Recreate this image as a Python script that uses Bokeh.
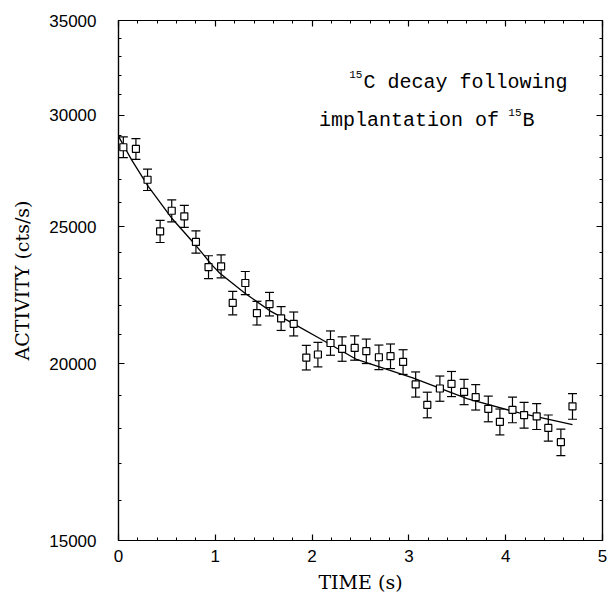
from bokeh.plotting import figure
from bokeh.models import (ColumnDataSource, Whisker, TeeHead, FixedTicker,
                          LinearAxis, LogAxis, Label, Range1d, NumeralTickFormatter,
                          CustomLabelingPolicy)
from bokeh.embed import file_html
from bokeh.resources import INLINE

# ---- data ----
time_s = [0.05, 0.18, 0.30, 0.43, 0.55, 0.68, 0.80, 0.93, 1.06, 1.18,
          1.31, 1.43, 1.56, 1.68, 1.81, 1.94, 2.06, 2.19, 2.31, 2.44,
          2.56, 2.69, 2.81, 2.94, 3.07, 3.19, 3.32, 3.44, 3.57, 3.69,
          3.82, 3.94, 4.07, 4.19, 4.32, 4.44, 4.57, 4.69]
activity = [28470, 28390, 27000, 24825, 25670, 25440, 24400, 23420, 23450, 22090,
            22820, 21730, 22050, 21540, 21350, 20210, 20310, 20695, 20495, 20530,
            20420, 20220, 20255, 20065, 19345, 18710, 19215, 19360, 19110, 18945,
            18590, 18200, 18560, 18400, 18360, 18020, 17605, 18665]
activity_err = [481, 480, 468, 449, 457, 455, 445, 436, 436, 424,
                431, 420, 423, 418, 416, 405, 406, 410, 408, 408,
                407, 405, 406, 404, 396, 390, 395, 396, 394, 392,
                389, 384, 388, 387, 386, 383, 378, 389]

fit_time = [0.0, 0.134, 0.307, 0.548, 0.807, 0.962, 1.044, 1.303, 1.56, 1.82,
            2.08, 2.37, 2.46, 3.04, 3.6, 4.14, 4.69]
fit_activity = [28980, 27900, 26712, 25370, 24226, 23515, 23195, 22450, 21817, 21330,
                20845, 20310, 20146, 19550, 18900, 18464, 18120]

x_major_ticks = [0, 1, 2, 3, 4, 5]
x_tick_labels = ["0", "1", "2", "3", "4", "5"]
x_minor_ticks = [0.2, 0.4, 0.6, 0.8, 1.2, 1.4, 1.6, 1.8, 2.2, 2.4, 2.6, 2.8,
                 3.2, 3.4, 3.6, 3.8, 4.2, 4.4, 4.6, 4.8]
y_major_ticks = [15000, 20000, 25000, 30000, 35000]
y_tick_labels = ["15000", "20000", "25000", "30000", "35000"]
y_minor_ticks = [16000, 17000, 18000, 19000, 21000, 22000, 23000, 24000,
                 26000, 27000, 28000, 29000, 31000, 32000, 33000, 34000]

lower = [a - e for a, e in zip(activity, activity_err)]
upper = [a + e for a, e in zip(activity, activity_err)]
src = ColumnDataSource(data=dict(t=time_s, a=activity, lo=lower, hi=upper))

p = figure(width=607, height=596, x_range=Range1d(0, 5), y_range=Range1d(15000, 35000),
           y_axis_type="log", output_backend="svg", toolbar_location=None,
           min_border_left=118, min_border_right=5, min_border_top=20, min_border_bottom=56,
           background_fill_color="white", border_fill_color="white")
p.grid.visible = False
p.outline_line_color = "black"
p.outline_line_width = 1.2

xt = FixedTicker(ticks=x_major_ticks, minor_ticks=x_minor_ticks)
yt = FixedTicker(ticks=y_major_ticks, minor_ticks=y_minor_ticks)


def style_axis(ax):
    ax.major_tick_in = 6
    ax.major_tick_out = 0
    ax.minor_tick_in = 3
    ax.minor_tick_out = 0
    ax.axis_line_color = "black"
    ax.axis_line_width = 1.2
    ax.major_tick_line_color = "black"
    ax.minor_tick_line_color = "black"
    ax.major_tick_line_width = 1.2
    ax.minor_tick_line_width = 1


xa = p.xaxis[0]
xa.ticker = xt
xa.major_label_overrides = dict(zip(x_major_ticks, x_tick_labels))
style_axis(xa)
xa.major_label_text_font = "Liberation Sans"
xa.major_label_text_font_size = "17px"
xa.major_label_text_color = "black"
xa.major_label_standoff = 9
xa.axis_label = "TIME (s)"
xa.axis_label_text_font = "DejaVu Serif"
xa.axis_label_text_font_style = "normal"
xa.axis_label_text_font_size = "19px"
xa.axis_label_text_color = "black"
xa.axis_label_standoff = 6

ya = p.yaxis[0]
ya.ticker = yt
ya.formatter = NumeralTickFormatter(format="0")
ya.major_label_overrides = dict(zip(y_major_ticks, y_tick_labels))
style_axis(ya)
ya.major_label_text_font = "Liberation Sans"
ya.major_label_text_font_size = "17px"
ya.major_label_text_color = "black"
ya.major_label_standoff = 22
ya.axis_label = "ACTIVITY (cts/s)"
ya.axis_label_text_font = "DejaVu Serif"
ya.axis_label_text_font_style = "normal"
ya.axis_label_text_font_size = "19px"
ya.axis_label_text_color = "black"
ya.axis_label_standoff = 13

no_labels = CustomLabelingPolicy(code="""
    const n = indices.size
    for (let i = 0; i < n; i++) indices.unset(i)
    return indices
""")

top_axis = LinearAxis(ticker=xt, major_label_policy=no_labels, major_label_standoff=0,
                      major_label_overrides={t: "" for t in x_major_ticks})
style_axis(top_axis)
p.add_layout(top_axis, "above")
right_axis = LogAxis(ticker=yt, major_label_policy=no_labels, major_label_standoff=0,
                     major_label_overrides={t: "" for t in y_major_ticks})
style_axis(right_axis)
p.add_layout(right_axis, "right")

# fit curve
p.line(fit_time, fit_activity, line_color="black", line_width=1.3)

# error bars
p.add_layout(Whisker(source=src, base="t", lower="lo", upper="hi", dimension="height",
                     line_color="black", line_width=1.2,
                     lower_head=TeeHead(size=9, line_color="black", line_width=1.2),
                     upper_head=TeeHead(size=9, line_color="black", line_width=1.2)))
# markers
p.scatter("t", "a", source=src, marker="square", size=7, fill_color="white",
          line_color="black", line_width=1.2)

# annotation
ann_font = "Liberation Mono"
p.add_layout(Label(x=2.52, y=32060, text="15", text_align="right", text_baseline="alphabetic",
                   text_font=ann_font, text_font_size="11px", text_color="black"))
p.add_layout(Label(x=2.531, y=31645, text="C decay following", text_align="left",
                   text_baseline="alphabetic", text_font=ann_font, text_font_size="20px",
                   text_color="black"))
p.add_layout(Label(x=3.93, y=29745, text="implantation of", text_align="right",
                   text_baseline="alphabetic", text_font=ann_font, text_font_size="20px",
                   text_color="black"))
p.add_layout(Label(x=4.163, y=30136, text="15", text_align="right", text_baseline="alphabetic",
                   text_font=ann_font, text_font_size="11px", text_color="black"))
p.add_layout(Label(x=4.174, y=29745, text="B", text_align="left", text_baseline="alphabetic",
                   text_font=ann_font, text_font_size="20px", text_color="black"))

open("out.html", "w").write(file_html(p, INLINE))
